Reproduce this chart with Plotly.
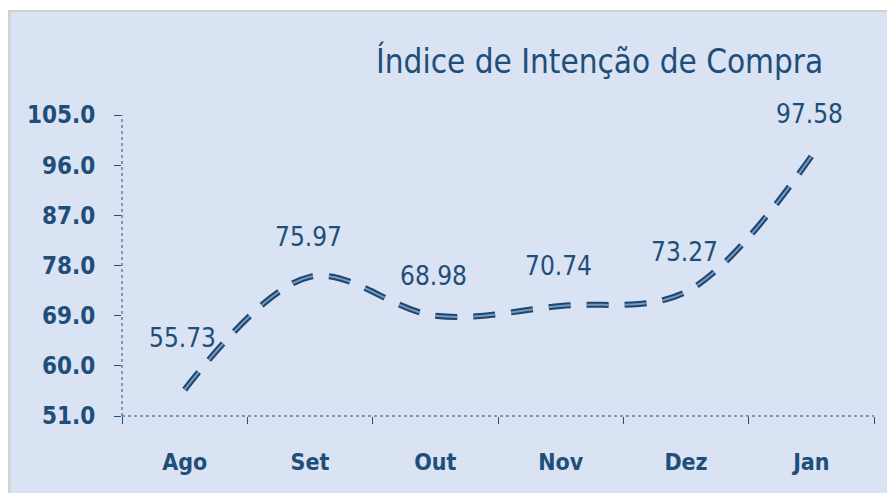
import plotly.graph_objects as go

months = ["Ago", "Set", "Out", "Nov", "Dez", "Jan"]
values = [55.73, 75.97, 68.98, 70.74, 73.27, 97.58]
y_ticks = [51.0, 60.0, 69.0, 78.0, 87.0, 96.0, 105.0]
title_text = "Índice de Intenção de Compra"

# page has an 8px body margin; figure coordinates = page coordinates - 8
OFF = 8
W, H = 895 - OFF, 493 - OFF
L, R, T, B = 122 - OFF, 21, 115 - OFF, 77
PW, PH = W - L - R, H - T - B

def px_x(p):
    return (p - OFF - L) / PW

def px_y(p):
    return (H - B - (p - OFF)) / PH

NAVY = "#1F4E79"
LINE_DARK = "#1D456E"
LINE_LIGHT = "#7499C2"
PANEL = "#D9E3F3"

fig = go.Figure()
fig.add_trace(go.Scatter(
    x=months, y=values, mode="lines",
    line=dict(shape="spline", smoothing=1.0, color=LINE_DARK, width=6, dash="22px,16px"),
    hoverinfo="skip", showlegend=False,
))
fig.add_trace(go.Scatter(
    x=months, y=values, mode="lines",
    line=dict(shape="spline", smoothing=1.0, color=LINE_LIGHT, width=2, dash="22px,16px"),
    hoverinfo="skip", showlegend=False,
))

label_shift = [52, 40, 40, 40, 40, 42]
for m, v, s in zip(months, values, label_shift):
    fig.add_annotation(x=m, y=v, text=f"{v:.2f}", showarrow=False, yshift=s, xshift=-2,
                       font=dict(family="DejaVu Sans Condensed", size=26, color=NAVY))

fig.add_annotation(x=px_x(599), y=px_y(61), xref="paper", yref="paper", text=title_text,
                   xanchor="center", yanchor="middle",
                   showarrow=False, font=dict(family="DejaVu Sans Condensed", size=33, color=NAVY))

shapes = [
    dict(type="rect", xref="paper", yref="paper", x0=px_x(8), x1=px_x(900), y0=px_y(10), y1=px_y(500),
         fillcolor="#D2D2D2", line_width=0, layer="below"),
    dict(type="rect", xref="paper", yref="paper", x0=px_x(10.5), x1=px_x(900), y0=px_y(12), y1=px_y(500),
         fillcolor=PANEL, line_width=0, layer="below"),
    dict(type="line", xref="paper", yref="paper", x0=0, x1=1, y0=0, y1=0,
         line=dict(color=NAVY, width=1, dash="dot")),
    dict(type="line", xref="paper", yref="paper", x0=0, x1=0, y0=0, y1=1,
         line=dict(color=NAVY, width=1, dash="dot")),
]
fig.update_layout(
    width=W, height=H, margin=dict(l=L, r=R, t=T, b=B),
    paper_bgcolor="white", plot_bgcolor="rgba(0,0,0,0)",
    shapes=shapes, showlegend=False,
)
fig.update_xaxes(type="category", range=[-0.5, 5.5], showgrid=False, zeroline=False, showline=False,
                 ticks="outside", tickson="boundaries", ticklen=7, tickcolor=NAVY, tickwidth=1,
                 tickfont=dict(family="DejaVu Sans Condensed", size=23, color=NAVY, weight="bold"),
                 ticklabelstandoff=30)
fig.update_yaxes(range=[51, 105], tickvals=y_ticks, ticktext=[f"{t:.1f}" for t in y_ticks],
                 showgrid=False, zeroline=False, showline=False,
                 ticks="outside", ticklen=7, tickcolor=NAVY, tickwidth=1,
                 tickfont=dict(family="DejaVu Sans Condensed", size=24, color=NAVY, weight="bold"),
                 ticklabelstandoff=14)

fig.write_html("out.html")
